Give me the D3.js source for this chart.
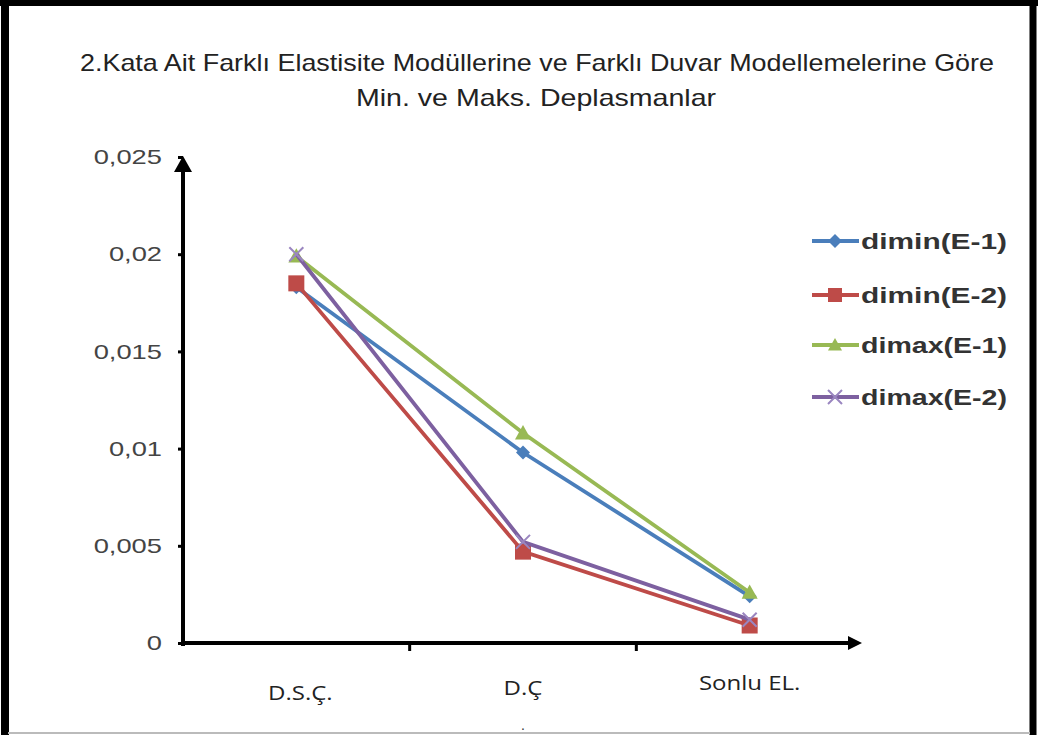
<!DOCTYPE html>
<html><head><meta charset="utf-8">
<script src="https://cdn.jsdelivr.net/npm/d3@7"></script>
<style>html,body{margin:0;padding:0;background:#fff;}svg{display:block;}</style>
</head><body>
<script>
const categories = ["D.S.Ç.", "D.Ç", "Sonlu EL."];
const seriesNames = ["dimin(E-1)", "dimin(E-2)", "dimax(E-1)", "dimax(E-2)"];
const diminE1 = [0.0183, 0.0098, 0.0024];
const diminE2 = [0.0185, 0.0047, 0.0009];
const dimaxE1 = [0.0199, 0.0108, 0.0026];
const dimaxE2 = [0.0200, 0.0052, 0.0012];
const yTicks = [0, 0.005, 0.01, 0.015, 0.02, 0.025];
const yTickLabels = ["0", "0,005", "0,01", "0,015", "0,02", "0,025"];
const titleLines = ["2.Kata Ait Farklı Elastisite Modüllerine ve Farklı Duvar Modellemelerine Göre", "Min. ve Maks. Deplasmanlar"];

const colors = ["#4A7EBB", "#BE4B48", "#98B954", "#7D60A0"];
const markers = ["diamond", "square", "triangle", "x"];
const seriesData = [diminE1, diminE2, dimaxE1, dimaxE2];

const W = 1038, H = 735;
const svg = d3.select("body").append("svg").attr("width", W).attr("height", H);
svg.append("rect").attr("width", W).attr("height", H).attr("fill", "#fff");

function stretch(sel, k) {
  sel.each(function () {
    const w = this.getComputedTextLength();
    d3.select(this).attr("textLength", w * k).attr("lengthAdjust", "spacingAndGlyphs");
  });
}

// frame
svg.append("line").attr("x1", 5).attr("x2", 5).attr("y1", 0).attr("y2", H).attr("stroke", "#000").attr("stroke-width", 8);
svg.append("line").attr("x1", 0).attr("x2", W).attr("y1", 3).attr("y2", 3).attr("stroke", "#000").attr("stroke-width", 6);
svg.append("line").attr("x1", W - 5).attr("x2", W - 5).attr("y1", 0).attr("y2", H).attr("stroke", "#000").attr("stroke-width", 7);
svg.append("line").attr("x1", 8).attr("x2", W - 8).attr("y1", 733).attr("y2", 733).attr("stroke", "#bbb").attr("stroke-width", 2);

// title
svg.append("text").attr("x", 537).attr("y", 71).attr("text-anchor", "middle")
  .attr("font-family", "Liberation Sans, Arial, sans-serif").attr("font-size", 24).attr("fill", "#222")
  .attr("textLength", 914).attr("lengthAdjust", "spacingAndGlyphs").text(titleLines[0]);
svg.append("text").attr("x", 536).attr("y", 106).attr("text-anchor", "middle")
  .attr("font-family", "Liberation Sans, Arial, sans-serif").attr("font-size", 24).attr("fill", "#222")
  .attr("textLength", 360).attr("lengthAdjust", "spacingAndGlyphs").text(titleLines[1]);

const x = d3.scaleBand().domain(categories).range([183, 863]).padding(0);
const y = d3.scaleLinear().domain([0, 0.025]).range([643, 157]);
const cx = c => x(c) + x.bandwidth() / 2;

// y axis
const yAxis = d3.axisLeft(y).tickValues(yTicks).tickSize(5).tickFormat((d, i) => yTickLabels[i]);
const gy = svg.append("g").attr("transform", "translate(183,0)").call(yAxis);
gy.select(".domain").remove();
gy.selectAll(".tick line").attr("stroke", "#000").attr("stroke-width", 3);
gy.selectAll(".tick text").attr("font-family", "Liberation Sans, Arial, sans-serif").attr("font-size", 21)
  .attr("fill", "#444").attr("x", -21);
stretch(gy.selectAll(".tick text"), 1.3);
svg.append("line").attr("x1", 183).attr("x2", 183).attr("y1", 646).attr("y2", 170).attr("stroke", "#000").attr("stroke-width", 4);
svg.append("path").attr("d", "M183,156 L174,172 L192,172 Z").attr("fill", "#000");

// x axis
const gx = svg.append("g").attr("transform", "translate(0,643)");
gx.append("line").attr("x1", 181).attr("x2", 850).attr("y1", 0).attr("y2", 0).attr("stroke", "#000").attr("stroke-width", 4);
gx.append("path").attr("d", "M862,0 L848,-7 L848,7 Z").attr("fill", "#000");
categories.slice(1).forEach(c => {
  gx.append("line").attr("x1", x(c)).attr("x2", x(c)).attr("y1", -2).attr("y2", 8).attr("stroke", "#000").attr("stroke-width", 3);
});
const labelDy = [57, 52, 47];
const xl = svg.append("g");
categories.forEach((c, i) => {
  xl.append("text").attr("x", cx(c) + (i === 0 ? 4 : 0)).attr("y", 643 + labelDy[i]).attr("text-anchor", "middle")
    .attr("font-family", "Open Sans, Liberation Sans, sans-serif").attr("font-size", 20).attr("fill", "#222").text(c);
});
stretch(xl.selectAll("text"), 1.2);
svg.append("text").attr("x", cx(categories[1])).attr("y", 730).attr("text-anchor", "middle")
  .attr("font-family", "Liberation Sans, sans-serif").attr("font-size", 14).attr("fill", "#333").text(".");

// markers
function drawMarker(g, type, px, py, color, s) {
  if (type === "diamond") {
    g.append("path").attr("d", `M${px},${py - s} L${px + s},${py} L${px},${py + s} L${px - s},${py} Z`).attr("fill", color);
  } else if (type === "square") {
    g.append("rect").attr("x", px - s).attr("y", py - s).attr("width", 2 * s).attr("height", 2 * s).attr("fill", color);
  } else if (type === "triangle") {
    g.append("path").attr("d", `M${px},${py - s} L${px + s},${py + s * 0.8} L${px - s},${py + s * 0.8} Z`).attr("fill", color);
  } else {
    g.append("path").attr("d", `M${px - s},${py - s} L${px + s},${py + s} M${px - s},${py + s} L${px + s},${py - s}`)
      .attr("stroke", "#9a86c0").attr("stroke-width", 2).attr("fill", "none");
  }
}
const msize = [7, 8, 8, 7];
const line = d3.line().x((d, i) => cx(categories[i])).y(d => y(d));
seriesData.forEach((vals, si) => {
  const g = svg.append("g");
  g.append("path").datum(vals).attr("d", line).attr("fill", "none").attr("stroke", colors[si]).attr("stroke-width", 3.8);
  vals.forEach((v, i) => drawMarker(g, markers[si], cx(categories[i]), y(v), colors[si], msize[si]));
});

// legend
const legendY = [241, 295, 345, 397];
seriesNames.forEach((n, i) => {
  const g = svg.append("g");
  g.append("line").attr("x1", 812).attr("x2", 859).attr("y1", legendY[i]).attr("y2", legendY[i])
    .attr("stroke", colors[i]).attr("stroke-width", 3.8);
  drawMarker(g, markers[i], 835, legendY[i], colors[i], 7);
  g.append("text").attr("x", 861).attr("y", legendY[i] + 8).attr("font-family", "Liberation Sans, Arial, sans-serif")
    .attr("font-size", 22).attr("font-weight", "bold").attr("fill", "#333")
    .attr("textLength", 146).attr("lengthAdjust", "spacingAndGlyphs").text(n);
});
</script>
</body></html>
